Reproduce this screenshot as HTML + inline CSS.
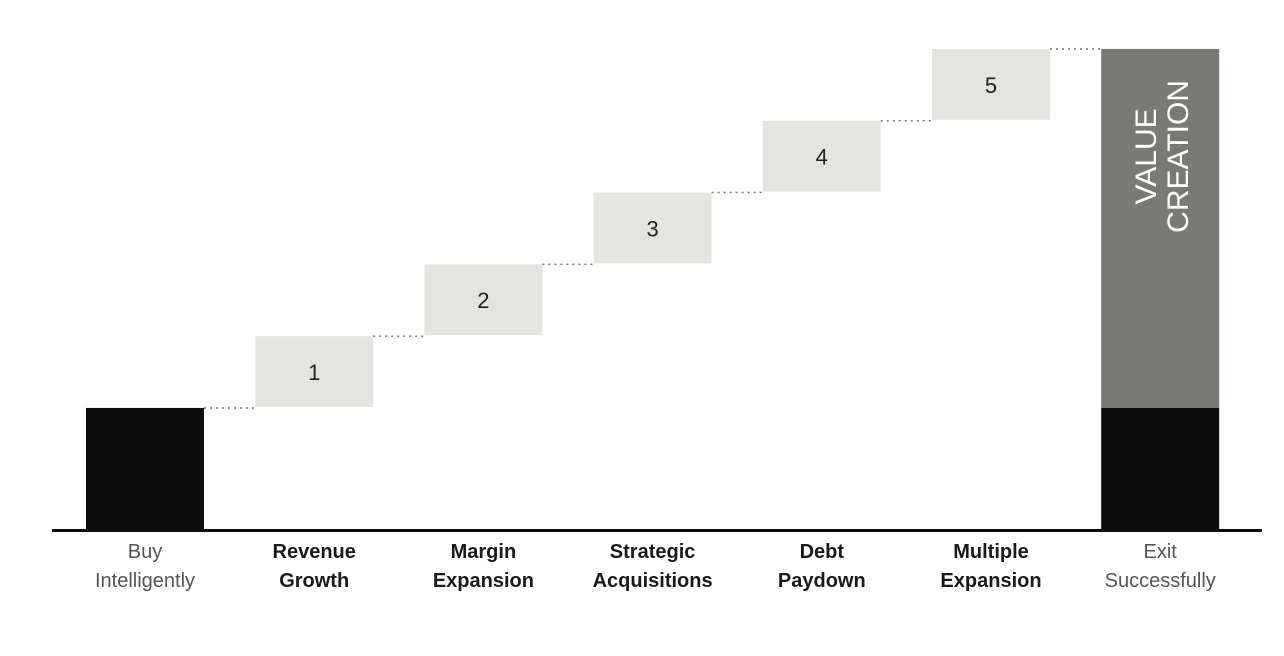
<!DOCTYPE html>
<html><head><meta charset="utf-8"><style>
html,body{margin:0;padding:0;background:#fff;width:1284px;height:656px;overflow:hidden}
svg{display:block}
text{font-family:"Liberation Sans",sans-serif}
</style></head><body>
<svg id="chart" width="1284" height="656"></svg>
<script>
const categories = ["Buy Intelligently","Revenue Growth","Margin Expansion","Strategic Acquisitions","Debt Paydown","Multiple Expansion","Exit Successfully"];
const labelLines = [["Buy","Intelligently"],["Revenue","Growth"],["Margin","Expansion"],["Strategic","Acquisitions"],["Debt","Paydown"],["Multiple","Expansion"],["Exit","Successfully"]];
const startValue = 1.7;
const stepValues = [1,1,1,1,1];
const stepLabels = ["1","2","3","4","5"];

const NS="http://www.w3.org/2000/svg";
const svg=document.getElementById('chart');
const baseY=530, unit=71.8, x0=86, pitch=169.2, bw=118;
function y(v){return baseY-v*unit;}
function x(i){return x0+i*pitch;}
function mk(tag,attrs,parent){const e=document.createElementNS(NS,tag);for(const k in attrs)e.setAttribute(k,attrs[k]);(parent||svg).appendChild(e);return e;}

// start bar
let r=mk('rect',{x:x(0),y:y(startValue),width:bw,height:baseY-y(startValue),fill:'#0d0d0d'});



let cum=startValue;
stepValues.forEach((v,i)=>{
  const xi=x(i+1);
  const ln=mk('line',{x1:x(i)+bw,x2:xi,y1:y(cum),y2:y(cum),stroke:'#777','stroke-width':1.5,'stroke-dasharray':'2,4'});
  
  
  const b=mk('rect',{x:xi,y:y(cum+v),width:bw,height:v*unit-1,fill:'#e4e4e1'});
  
  
  const t=mk('text',{x:xi+bw/2,y:y(cum+v/2)+8,'text-anchor':'middle','font-size':22,fill:'#222'});
  t.textContent=stepLabels[i];
  
  
  cum+=v;
});
// connector to exit
let lc=mk('line',{x1:x(5)+bw,x2:x(6),y1:y(cum),y2:y(cum),stroke:'#777','stroke-width':1.5,'stroke-dasharray':'2,4'});



// exit bar
let eg=mk('rect',{x:x(6),y:y(cum),width:bw,height:y(startValue)-y(cum),fill:'#7a7a75'});


let eb=mk('rect',{x:x(6),y:y(startValue),width:bw,height:baseY-y(startValue),fill:'#0d0d0d'});


const cx=x(6)+bw/2, cy=(y(cum)+y(startValue))/2-72;
let vt=mk('text',{transform:`translate(${cx},${cy}) rotate(-90)`,'text-anchor':'middle','font-size':30,fill:'#fff'});


mk('tspan',{x:0,dy:-4},vt).textContent='VALUE';
mk('tspan',{x:0,dy:32},vt).textContent='CREATION';

// baseline
let bl=mk('rect',{x:52,y:baseY-1,width:1210,height:3,fill:'#0d0d0d'});



// category labels
categories.forEach((c,i)=>{
  const edge=(i===0||i===categories.length-1);
  const t=mk('text',{x:x(i)+bw/2,y:558,'text-anchor':'middle','font-size':20,fill:edge?'#555':'#1a1a1a','font-weight':edge?'normal':'bold'});
  
  
  mk('tspan',{x:x(i)+bw/2,dy:0},t).textContent=labelLines[i][0];
  mk('tspan',{x:x(i)+bw/2,dy:29},t).textContent=labelLines[i][1];
});
</script>
</body></html>
